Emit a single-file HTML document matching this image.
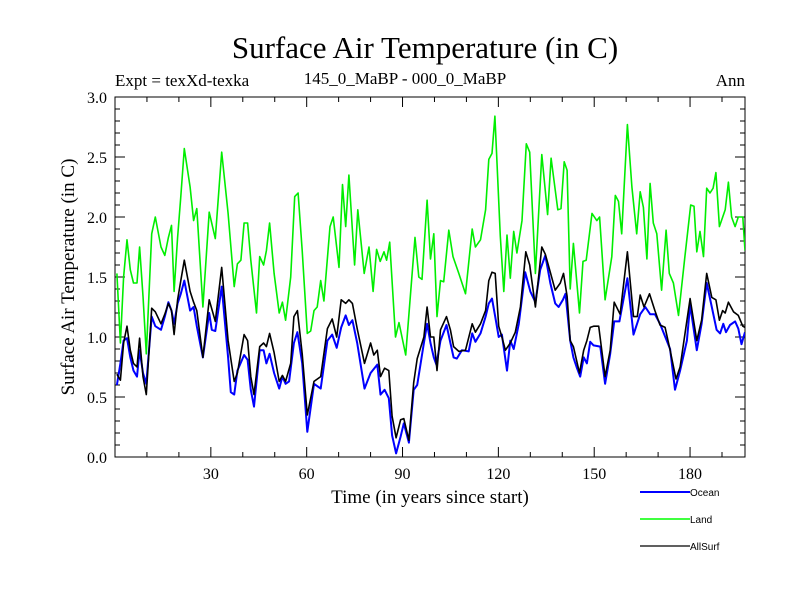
<!DOCTYPE html>
<html><head><meta charset="utf-8"><style>
html,body{margin:0;padding:0;background:#fff;}
svg{display:block;font-family:"Liberation Serif",serif;}
</style></head><body>
<svg id="chart" width="800" height="600" viewBox="0 0 800 600">
<text x="425" y="58" font-size="31" text-anchor="middle">Surface Air Temperature (in C)</text>
<text x="115" y="86" font-size="17">Expt = texXd-texka</text>
<text x="405" y="84" font-size="17" text-anchor="middle">145_0_MaBP - 000_0_MaBP</text>
<text x="745" y="86" font-size="17" text-anchor="end">Ann</text>
<text transform="translate(74,277) rotate(-90)" font-size="19" text-anchor="middle">Surface Air Temperature (in C)</text>
<text x="430" y="503" font-size="19" text-anchor="middle">Time (in years since start)</text>
<g id="axes"></g>
<defs><clipPath id="plotclip"><rect x="115" y="97" width="630" height="360"/></clipPath></defs>
<g id="series" clip-path="url(#plotclip)"></g>
<g font-family="Liberation Sans, sans-serif" font-size="10">
<g><line x1="640" y1="492" x2="690" y2="492" stroke="#0000ff" stroke-width="2"/><text x="690" y="496">Ocean</text></g>
<g><line x1="640" y1="519" x2="690" y2="519" stroke="#00ff00" stroke-width="1.5"/><text x="690" y="523">Land</text></g>
<g><line x1="640" y1="546" x2="690" y2="546" stroke="#000" stroke-width="1.2"/><text x="690" y="550">AllSurf</text></g>
</g>
</svg>
<script>
const yTicks = [0.0,0.5,1.0,1.5,2.0,2.5,3.0];
const yTickLabels = ["0.0","0.5","1.0","1.5","2.0","2.5","3.0"];
const xTicks = [30,60,90,120,150,180];
const xTickLabels = ["30","60","90","120","150","180"];
const landYears = [0.6,1.7,2.7,3.75,4.8,5.8,6.9,7.7,8.75,9.8,11.5,12.6,14.4,15.6,16.7,17.7,18.5,19.6,20.6,21.7,23.5,24.6,25.6,27.5,29.5,31.4,33.4,35.4,37.3,38.3,39.4,40.4,41.5,42.5,44.3,45.3,46.5,47.4,48.4,49.8,51.4,52.4,53.4,55,56.25,57.3,58.6,60.2,61.25,62.3,63.3,64.4,65.4,67.3,68.3,70.1,71.2,72.2,73.2,75,76,78,79.5,80.8,81.9,83,84.2,85,86,87.8,88.9,91,93.9,95.1,96.1,97.7,98.75,99.8,100.8,101.9,102.9,104.5,105.8,107.6,109.7,111.8,112.8,114.4,116,117,118,118.9,120.6,121.7,122.7,123.75,124.8,125.8,127.4,128.75,129.8,131.6,133.6,135.4,136.5,138.6,139.6,140.6,141.5,142.5,143.5,145.4,146.5,147.5,149.3,150.8,151.7,153.4,155.5,156.6,157.6,158.6,160.4,161.8,163.3,164.4,165.4,166.5,167.5,168.5,169.6,171.1,172.5,173.5,174.8,176.4,178.4,180.2,181.25,182.1,183.1,184.2,185.2,186.25,187.2,188.1,189.2,191,192,193,194.1,195.1,196.5,197.2];
const landVals = [1.53,0.95,1.5,1.81,1.56,1.45,1.45,1.75,1.34,0.86,1.86,2.0,1.75,1.68,1.83,1.93,1.38,1.83,2.17,2.57,2.25,1.97,2.07,1.25,2.04,1.82,2.54,2.03,1.42,1.61,1.64,1.95,1.95,1.64,1.2,1.67,1.6,1.72,1.95,1.53,1.2,1.29,1.14,1.5,2.17,2.2,1.72,1.03,1.05,1.22,1.25,1.47,1.3,1.92,2.0,1.58,2.27,1.92,2.35,1.6,2.06,1.53,1.75,1.38,1.73,1.63,1.71,1.64,1.79,1.0,1.12,0.85,1.83,1.5,1.48,2.14,1.65,1.86,1.17,1.47,1.46,1.89,1.67,1.53,1.36,1.9,1.75,1.81,2.06,2.48,2.53,2.84,1.84,1.38,1.85,1.49,1.88,1.7,1.97,2.61,2.54,1.53,2.52,2.02,2.49,2.06,2.07,2.46,2.39,1.4,1.78,1.2,1.63,1.64,2.03,1.97,2.0,1.31,1.67,2.18,2.13,1.86,2.77,2.25,1.86,2.21,2.08,1.65,2.28,1.95,1.86,1.39,1.89,1.53,1.45,1.18,1.67,2.1,2.09,1.71,1.88,1.67,2.24,2.2,2.24,2.37,1.92,2.06,2.29,2.0,1.92,2.0,2.0,1.72];
const oceanYears = [0.6,1.7,2.7,3.75,4.8,5.8,6.9,7.7,8.75,9.8,11.5,12.6,14.4,15.6,16.7,17.7,18.5,19.6,20.6,21.7,23.5,24.6,25.6,27.5,29.5,30.3,31.4,33.4,35.4,36.25,37.3,38.3,40.4,41.5,42.5,43.5,45.3,46.5,47.4,48.4,49.8,51.4,52.4,53.4,54.5,56,57.1,58.6,60.2,62.3,64.4,66.5,68,69.4,70.8,72.2,73.2,74.3,75.8,78.1,80,82.1,83.1,84.4,85.7,86.75,88,89.4,90.4,92,93.5,94.6,96.7,97.7,98.75,99.8,100.6,101.9,103.75,105,106,107,108.6,110.7,111.8,112.8,114.4,116,117,118,119,120.1,121.1,122.7,123.75,124.8,126.4,128.4,130,131.6,133.1,134.7,136.25,137.8,138.85,140.2,141,142.5,143.5,144.6,145.6,146.7,147.7,148.75,149.8,151.9,153.4,155,156.25,157.9,160.4,162.3,164.4,166,167.5,169,170.6,173.75,175.3,176.9,179,180,182.1,183.6,185.2,186.8,188.3,189.4,190.4,191.25,192.5,194.1,195.1,196.1,197.2];
const oceanVals = [0.6,0.78,0.97,0.99,0.83,0.72,0.67,0.89,0.70,0.61,1.17,1.09,1.06,1.17,1.29,1.22,1.11,1.28,1.36,1.47,1.22,1.25,1.09,0.83,1.2,1.06,1.05,1.42,0.83,0.54,0.52,0.72,0.85,0.81,0.56,0.42,0.89,0.89,0.78,0.86,0.70,0.57,0.67,0.61,0.63,0.95,1.04,0.78,0.21,0.61,0.57,0.97,1.02,0.91,1.08,1.18,1.1,1.14,0.95,0.57,0.70,0.77,0.52,0.56,0.49,0.18,0.03,0.17,0.28,0.12,0.56,0.60,0.95,1.11,0.95,0.83,0.77,0.97,1.1,0.95,0.83,0.82,0.89,0.88,1.03,0.96,1.03,1.17,1.28,1.32,1.17,1.0,1.02,0.72,0.97,0.9,1.11,1.54,1.38,1.29,1.56,1.68,1.45,1.28,1.25,1.31,1.36,0.97,0.83,0.74,0.67,0.83,0.78,0.96,0.93,0.92,0.61,0.86,1.13,1.13,1.49,1.02,1.19,1.25,1.19,1.19,1.11,0.90,0.56,0.72,0.97,1.27,0.89,1.11,1.45,1.25,1.06,1.03,1.11,1.04,1.1,1.13,1.07,0.94,1.04];
const allYears = [0.6,1.7,2.7,3.75,4.8,5.8,6.9,7.7,8.75,9.8,11.5,12.6,14.4,15.6,16.7,17.7,18.5,19.6,20.6,21.7,23.5,24.6,25.6,27.5,29.5,31.4,33.4,35.4,37.3,38.3,40.4,41.5,42.5,43.5,45.3,46.5,47.4,48.4,49.8,51.4,52.4,53.4,55,56,57.1,58.6,60.2,62.3,64.4,66.5,68,69.4,70.8,72.2,73.2,74.3,75.8,78.1,80,81,82.1,83.1,84.4,85.7,86.75,88,89.4,90.4,92,93.5,94.6,96.7,97.7,98.75,99.8,100.8,101.9,103.75,105,106,107.6,109.7,111.8,112.8,114.4,116,117,118,119,120.1,121.1,122.2,123.75,125.3,126.9,128.6,129.8,131.6,133.6,134.7,136.25,137.8,139.4,140.4,141.5,142.5,143.5,145.4,146.7,147.7,148.75,149.8,151.4,153.4,155,156.25,158.1,160.4,162.3,163.5,164.4,165.6,167.3,169,170.6,172.2,173.75,175.6,176.9,180,182.1,183.6,185.2,186.8,188.1,189.2,190.2,191,192,193.6,195.1,196.5,197.2];
const allVals = [0.69,0.64,0.95,1.09,0.89,0.78,0.75,0.99,0.67,0.52,1.24,1.21,1.11,1.19,1.28,1.22,1.02,1.31,1.47,1.64,1.38,1.29,1.22,0.83,1.31,1.13,1.58,0.97,0.63,0.70,1.02,0.97,0.67,0.52,0.92,0.95,0.92,1.03,0.87,0.63,0.68,0.63,0.78,1.17,1.22,0.86,0.35,0.63,0.67,1.07,1.15,1.0,1.31,1.28,1.31,1.28,1.07,0.78,0.95,0.85,0.89,0.67,0.74,0.72,0.34,0.16,0.31,0.32,0.14,0.62,0.82,1.0,1.25,1.0,1.0,0.72,1.06,1.17,1.06,0.92,0.88,0.89,1.11,1.04,1.11,1.22,1.47,1.54,1.53,1.09,1.0,0.89,0.95,1.04,1.25,1.71,1.6,1.25,1.75,1.69,1.54,1.39,1.45,1.53,1.34,0.97,0.92,0.70,0.89,0.97,1.08,1.09,1.09,0.67,0.89,1.29,1.19,1.71,1.17,1.17,1.35,1.25,1.36,1.22,1.1,1.08,0.89,0.65,0.75,1.32,0.97,1.14,1.53,1.33,1.31,1.14,1.22,1.2,1.29,1.21,1.18,1.09,1.08];

const X0=115, X1=745, Y0=457, Y1=97, XMAX=197.2, YMAX=3.0;
function xs(v){return X0+(v/XMAX)*(X1-X0);}
function ys(v){return Y0-(v/YMAX)*(Y0-Y1);}
const NS="http://www.w3.org/2000/svg";
const axes=document.getElementById('axes');
function mk(tag,attrs,parent){const e=document.createElementNS(NS,tag);for(const k in attrs)e.setAttribute(k,attrs[k]);parent.appendChild(e);return e;}
const frame=mk('rect',{x:X0,y:Y1,width:X1-X0,height:Y0-Y1,fill:'none',stroke:'#000','stroke-width':1},axes);


// y ticks
for(let i=0;i<=30;i++){
  const v=i*0.1, y=ys(v), major=(i%5===0), L=major?10:5;
  const t1=mk('line',{x1:X0,y1:y,x2:X0+L,y2:y,stroke:'#000','stroke-width':1},axes);
  
  
  const t2=mk('line',{x1:X1,y1:y,x2:X1-L,y2:y,stroke:'#000','stroke-width':1},axes);
  
  
}
yTicks.forEach((v,i)=>{
  const t=mk('text',{x:X0-8,y:ys(v)+6,'font-size':16,'text-anchor':'end'},axes);
  t.textContent=yTickLabels[i];
  
  
});
for(let v=10;v<XMAX;v+=10){
  const x=xs(v), major=(v%30===0), L=major?10:5;
  const t1=mk('line',{x1:x,y1:Y0,x2:x,y2:Y0-L,stroke:'#000','stroke-width':1},axes);
  
  
  const t2=mk('line',{x1:x,y1:Y1,x2:x,y2:Y1+L,stroke:'#000','stroke-width':1},axes);
  
  
}
xTicks.forEach((v,i)=>{
  const t=mk('text',{x:xs(v),y:Y0+22,'font-size':16,'text-anchor':'middle'},axes);
  t.textContent=xTickLabels[i];
  
  
});
const sg=document.getElementById('series');
function line(years,vals,color,w,name){
  const d=years.map((y,i)=>(i?'L':'M')+xs(y).toFixed(1)+','+ys(vals[i]).toFixed(1)).join('');
  const p=mk('path',{d:d,fill:'none',stroke:color,'stroke-width':w,'stroke-linejoin':'round'},sg);
  
  
}
line(landYears,landVals,'#00ee00',1.6,'land-line');
line(oceanYears,oceanVals,'#0000ff',2,'ocean-line');
line(allYears,allVals,'#000000',1.6,'allsurf-line');
</script>
</body></html>
